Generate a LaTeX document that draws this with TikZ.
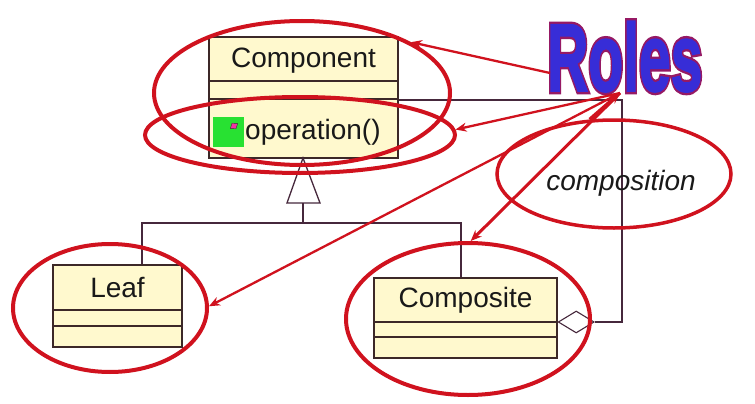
\documentclass[tikz,border=0pt]{standalone}
\usepackage{fontspec}
\setmainfont{Liberation Sans}
\newfontfamily\rolesheavy[FakeBold=7]{Liberation Sans Bold}
\newfontfamily\roleslight[FakeBold=2]{Liberation Sans Bold}
\usetikzlibrary{arrows.meta,shapes.geometric}
\definecolor{rred}{RGB}{208,18,30}
\definecolor{boxfill}{RGB}{255,249,206}
\definecolor{boxline}{RGB}{60,40,40}
\definecolor{umlc}{RGB}{70,40,60}
\definecolor{rolesblue}{RGB}{55,45,215}
\definecolor{rolespurple}{RGB}{150,25,100}
\definecolor{opgreen}{RGB}{40,225,50}
\tikzset{
  classbox/.style={draw=boxline, fill=boxfill, line width=1.3pt, inner sep=0pt},
  classname/.style={font=\fontsize{28}{30}\selectfont, text=black!90, inner sep=0pt},
  umlline/.style={draw=umlc, line width=1.3pt},
  redell/.style={ellipse, draw=rred, line width=4pt, inner sep=0pt},
  redarrow/.style={draw=rred, line width=2.3pt, -{Stealth[length=11pt,width=9pt]}},
  rolestext/.style={anchor=base west, inner sep=0pt},
}
\begin{document}
\begin{tikzpicture}[x=1pt,y=-1pt]
\useasboundingbox[fill=white] (0,0) rectangle (755,404);

% ---- Component class
\node[classbox, minimum width=189pt, minimum height=121pt] (component) at (303.5,97.5) {};
\draw[boxline, line width=1.3pt] (209,81) -- (398,81);
\draw[boxline, line width=1.3pt] (209,99) -- (398,99);
\node[classname] (compname) at (303.5,61) {Component};
\node[fill=opgreen, minimum width=31pt, minimum height=30pt, inner sep=0pt] (opicon) at (228.5,132) {};
\node[diamond, draw=black!80, fill=magenta!80, minimum width=9pt, minimum height=7pt, inner sep=0pt, rotate=35] (opdia) at (234,126) {};
\node[classname, anchor=west] (optext) at (245,132) {operation()};

% ---- Leaf class
\node[classbox, minimum width=129pt, minimum height=82pt] (leaf) at (117.5,306) {};
\draw[boxline, line width=1.3pt] (53,310) -- (182,310);
\draw[boxline, line width=1.3pt] (53,326) -- (182,326);
\node[classname] (leafname) at (117.5,288) {Leaf};

% ---- Composite class
\node[classbox, minimum width=183pt, minimum height=80pt] (composite) at (465.5,318) {};
\draw[boxline, line width=1.3pt] (374,322) -- (557,322);
\draw[boxline, line width=1.3pt] (374,337) -- (557,337);
\node[classname] (compositename) at (465.5,300) {Composite};

% ---- inheritance
\draw[umlline, fill=white] (303,158) -- (320,203) -- (287,203) -- cycle;
\coordinate (tribase) at (303,203);
\coordinate (junc) at (303,223);
\draw[umlline] (tribase) -- (junc);
\draw[umlline] (junc) -| ([xshift=24.5pt]leaf.north);
\draw[umlline] (junc) -| ([xshift=-4.5pt]composite.north);

% ---- aggregation
\node[diamond, draw=umlc, fill=white, line width=1.1pt, minimum width=36pt, minimum height=22pt, inner sep=0pt, anchor=west] (agg) at ([yshift=-4pt]composite.east) {};
\coordinate (aggcorner) at (622,100);
\draw[umlline] ([yshift=-2.5pt]component.east) -- (aggcorner) |- (agg.east);

% ---- Roles (purple outline under blue letters)
\node[rolestext, text=rolespurple] (rolesoutline) at (547,91) {\scalebox{0.57}[0.96]{\fontsize{100}{100}\rolesheavy Roles}};
\node[rolestext, text=rolesblue] (roles) at (547,91) {\scalebox{0.57}[0.96]{\fontsize{100}{100}\roleslight Roles}};
\coordinate (hub) at (620,93);
\coordinate (rolesleft) at (550,73);

% ---- red ellipses
\node[redell, minimum width=296pt, minimum height=144pt] (bigell) at (302,93) {};
\node[redell, minimum width=310pt, minimum height=76pt] (opell) at (300,135) {};
\node[redell, minimum width=194pt, minimum height=128pt] (leafell) at (110,308) {};
\node[redell, minimum width=244pt, minimum height=152pt] (compell) at (468,319) {};
\node[redell, line width=3.5pt, minimum width=234pt, minimum height=108pt] (cell) at (614,174) {};
\node[inner sep=0pt, font=\fontsize{28}{30}\selectfont\itshape, text=black!90] (ctext) at (621,183) {composition};

% ---- red arrows
\draw[redarrow] (rolesleft) -- (bigell.25);
\draw[redarrow] (hub) -- (opell.2);
\draw[redarrow] (hub) -- (leafell.1);
\draw[redarrow, line width=3pt] (hub) -- (compell.88);
\draw[redarrow, line width=3.5pt] (cell.114) -- (hub);
\end{tikzpicture}
\end{document}
